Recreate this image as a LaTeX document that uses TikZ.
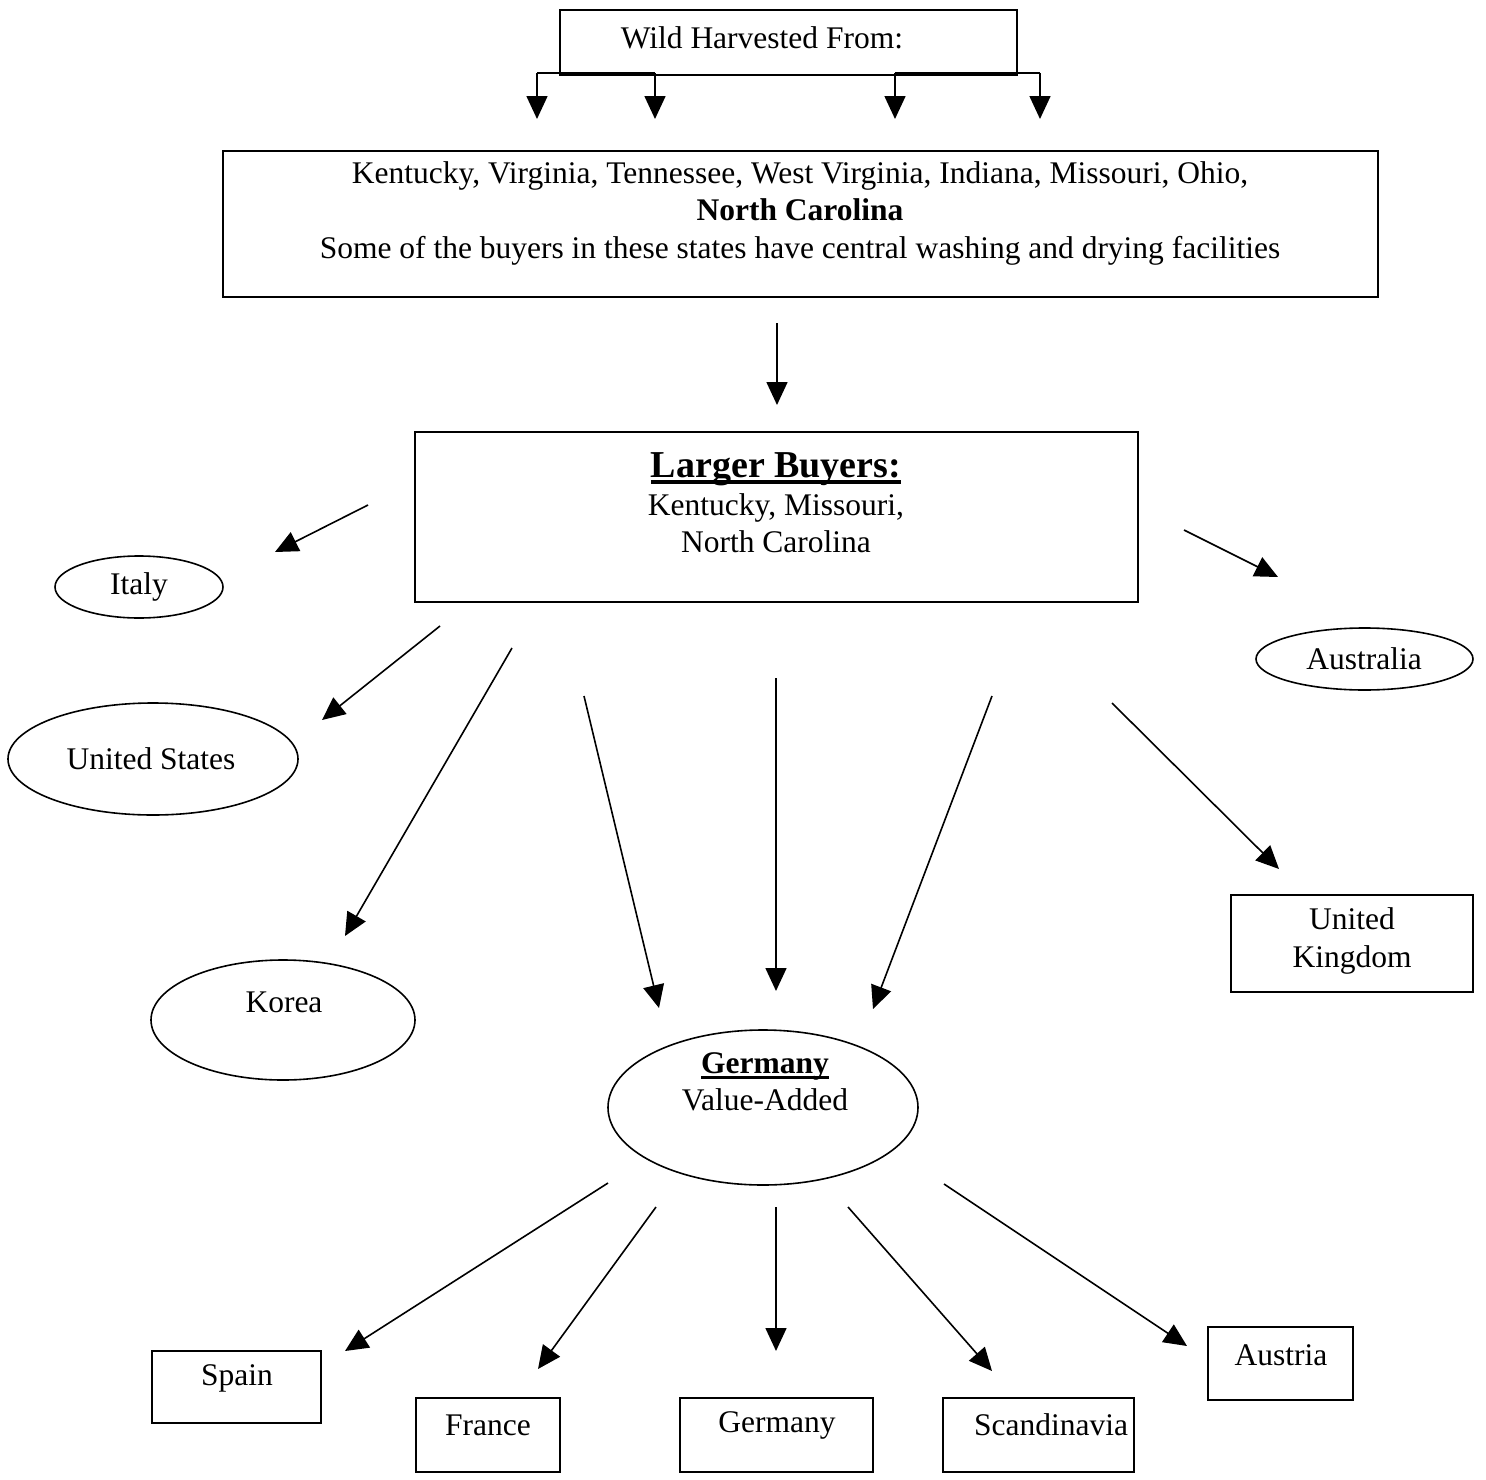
\documentclass[tikz,border=0pt]{standalone}
\usepackage{fontspec}
\setmainfont{Liberation Serif}
\usetikzlibrary{arrows.meta,shapes.geometric}

\newlength\ulw
\newcommand\heavyul[1]{\settowidth\ulw{#1}\makebox[0pt][l]{\rule[-6pt]{\ulw}{3.5pt}}#1}

\tikzset{
  frame/.style={draw, line width=1.6pt, inner sep=0pt},
  oval/.style={draw, ellipse, line width=1.6pt, inner sep=0pt},
  txt/.style={align=center, inner sep=0pt, font=\fontsize{31.5}{37.5}\selectfont},
  flow/.style={line width=1.6pt, -{Triangle[width=21pt,length=23pt]}},
  elbow/.style={line width=1.6pt}
}

\begin{document}
\begin{tikzpicture}[x=1pt, y=-1pt]
\useasboundingbox (0,0) rectangle (1486,1480);

% ---------- source box and its split arrows ----------
\node[frame, minimum width=457pt, minimum height=65pt] (wild) at (788.5,42.5) {};
\node[txt] (wildT) at (762,38) {Wild Harvested From:};

\coordinate (l1) at (537,73);  \coordinate (l2) at (655,73);
\coordinate (r1) at (895,73);  \coordinate (r2) at (1040,73);
\coordinate (l1e) at (537,119); \coordinate (l2e) at (655,119);
\coordinate (r1e) at (895,119); \coordinate (r2e) at (1040,119);
\draw[elbow] (l1) -- (l2);
\draw[elbow] (r1) -- (r2);
\draw[flow] (l1) -- (l1e);
\draw[flow] (l2) -- (l2e);
\draw[flow] (r1) -- (r1e);
\draw[flow] (r2) -- (r2e);

% ---------- states box ----------
\node[frame, minimum width=1155pt, minimum height=146pt] (states) at (800.5,224) {};
\node[txt] (statesT) at (800,213) {Kentucky, Virginia, Tennessee, West Virginia, Indiana, Missouri, Ohio,\\
  \textbf{North Carolina}\\
  Some of the buyers in these states have central washing and drying facilities};

\coordinate (s1) at (777,323); \coordinate (s2) at (777,405);
\draw[flow] (s1) -- (s2);

% ---------- larger buyers ----------
\node[frame, minimum width=723pt, minimum height=170pt] (buyers) at (776.5,517) {};
\node[txt] (buyersT) at (776,503) {{\fontsize{38}{38}\selectfont\textbf{\heavyul{Larger Buyers:}}}\\ Kentucky, Missouri,\\ North Carolina};

% ---------- export destinations ----------
\node[oval, minimum width=168pt, minimum height=62pt] (italy) at (139,587) {};
\node[txt] (italyT) at (139,587) {Italy};

\node[oval, minimum width=217pt, minimum height=62pt] (australia) at (1364.5,659) {};
\node[txt] (australiaT) at (1364,659) {Australia};

\node[oval, minimum width=290pt, minimum height=112pt] (us) at (153,759) {};
\node[txt] (usT) at (151,759) {United States};

\node[oval, minimum width=264pt, minimum height=120pt] (korea) at (283,1020) {};
\node[txt] (koreaT) at (284,1002) {Korea};

\node[frame, minimum width=242pt, minimum height=97pt] (uk) at (1352,943.5) {};
\node[txt] (ukT) at (1352,941) {United\\ Kingdom};

\node[oval, minimum width=310pt, minimum height=155pt] (germ) at (763,1107.5) {};
\node[txt] (germT) at (765,1082) {\textbf{\heavyul{Germany}}\\ Value-Added};

% arrows out of the larger buyers
\coordinate (a1) at (368,505);  \coordinate (a1e) at (275,552);
\coordinate (a2) at (1184,530); \coordinate (a2e) at (1278,577);
\coordinate (a3) at (440,626);  \coordinate (a3e) at (322,720);
\coordinate (a4) at (512,648);  \coordinate (a4e) at (345,936);
\coordinate (a5) at (584,696);  \coordinate (a5e) at (659,1008);
\coordinate (a6) at (776,678);  \coordinate (a6e) at (776,991);
\coordinate (a7) at (992,696);  \coordinate (a7e) at (873,1009);
\coordinate (a8) at (1112,703); \coordinate (a8e) at (1279,869);
\draw[flow] (a1) -- (a1e);
\draw[flow] (a2) -- (a2e);
\draw[flow] (a3) -- (a3e);
\draw[flow] (a4) -- (a4e);
\draw[flow] (a5) -- (a5e);
\draw[flow] (a6) -- (a6e);
\draw[flow] (a7) -- (a7e);
\draw[flow] (a8) -- (a8e);

% ---------- European markets ----------
\node[frame, minimum width=169pt, minimum height=72pt] (spain) at (236.5,1387) {};
\node[txt] (spainT) at (237,1378) {Spain};

\node[frame, minimum width=144pt, minimum height=74pt] (france) at (488,1435) {};
\node[txt] (franceT) at (488,1425) {France};

\node[frame, minimum width=193pt, minimum height=74pt] (germany) at (776.5,1435) {};
\node[txt] (germanyT) at (777,1425) {Germany};

\node[frame, minimum width=191pt, minimum height=74pt] (scand) at (1038.5,1435) {};
\node[txt] (scandT) at (1051,1425) {Scandinavia};

\node[frame, minimum width=145pt, minimum height=73pt] (austria) at (1280.5,1363.5) {};
\node[txt] (austriaT) at (1281,1355) {Austria};

% arrows out of the value-added hub
\coordinate (b1) at (608,1183); \coordinate (b1e) at (345,1351);
\coordinate (b2) at (656,1207); \coordinate (b2e) at (538,1369);
\coordinate (b3) at (776,1207); \coordinate (b3e) at (776,1351);
\coordinate (b4) at (848,1207); \coordinate (b4e) at (992,1371);
\coordinate (b5) at (944,1184); \coordinate (b5e) at (1187,1346);
\draw[flow] (b1) -- (b1e);
\draw[flow] (b2) -- (b2e);
\draw[flow] (b3) -- (b3e);
\draw[flow] (b4) -- (b4e);
\draw[flow] (b5) -- (b5e);
\end{tikzpicture}
\end{document}
